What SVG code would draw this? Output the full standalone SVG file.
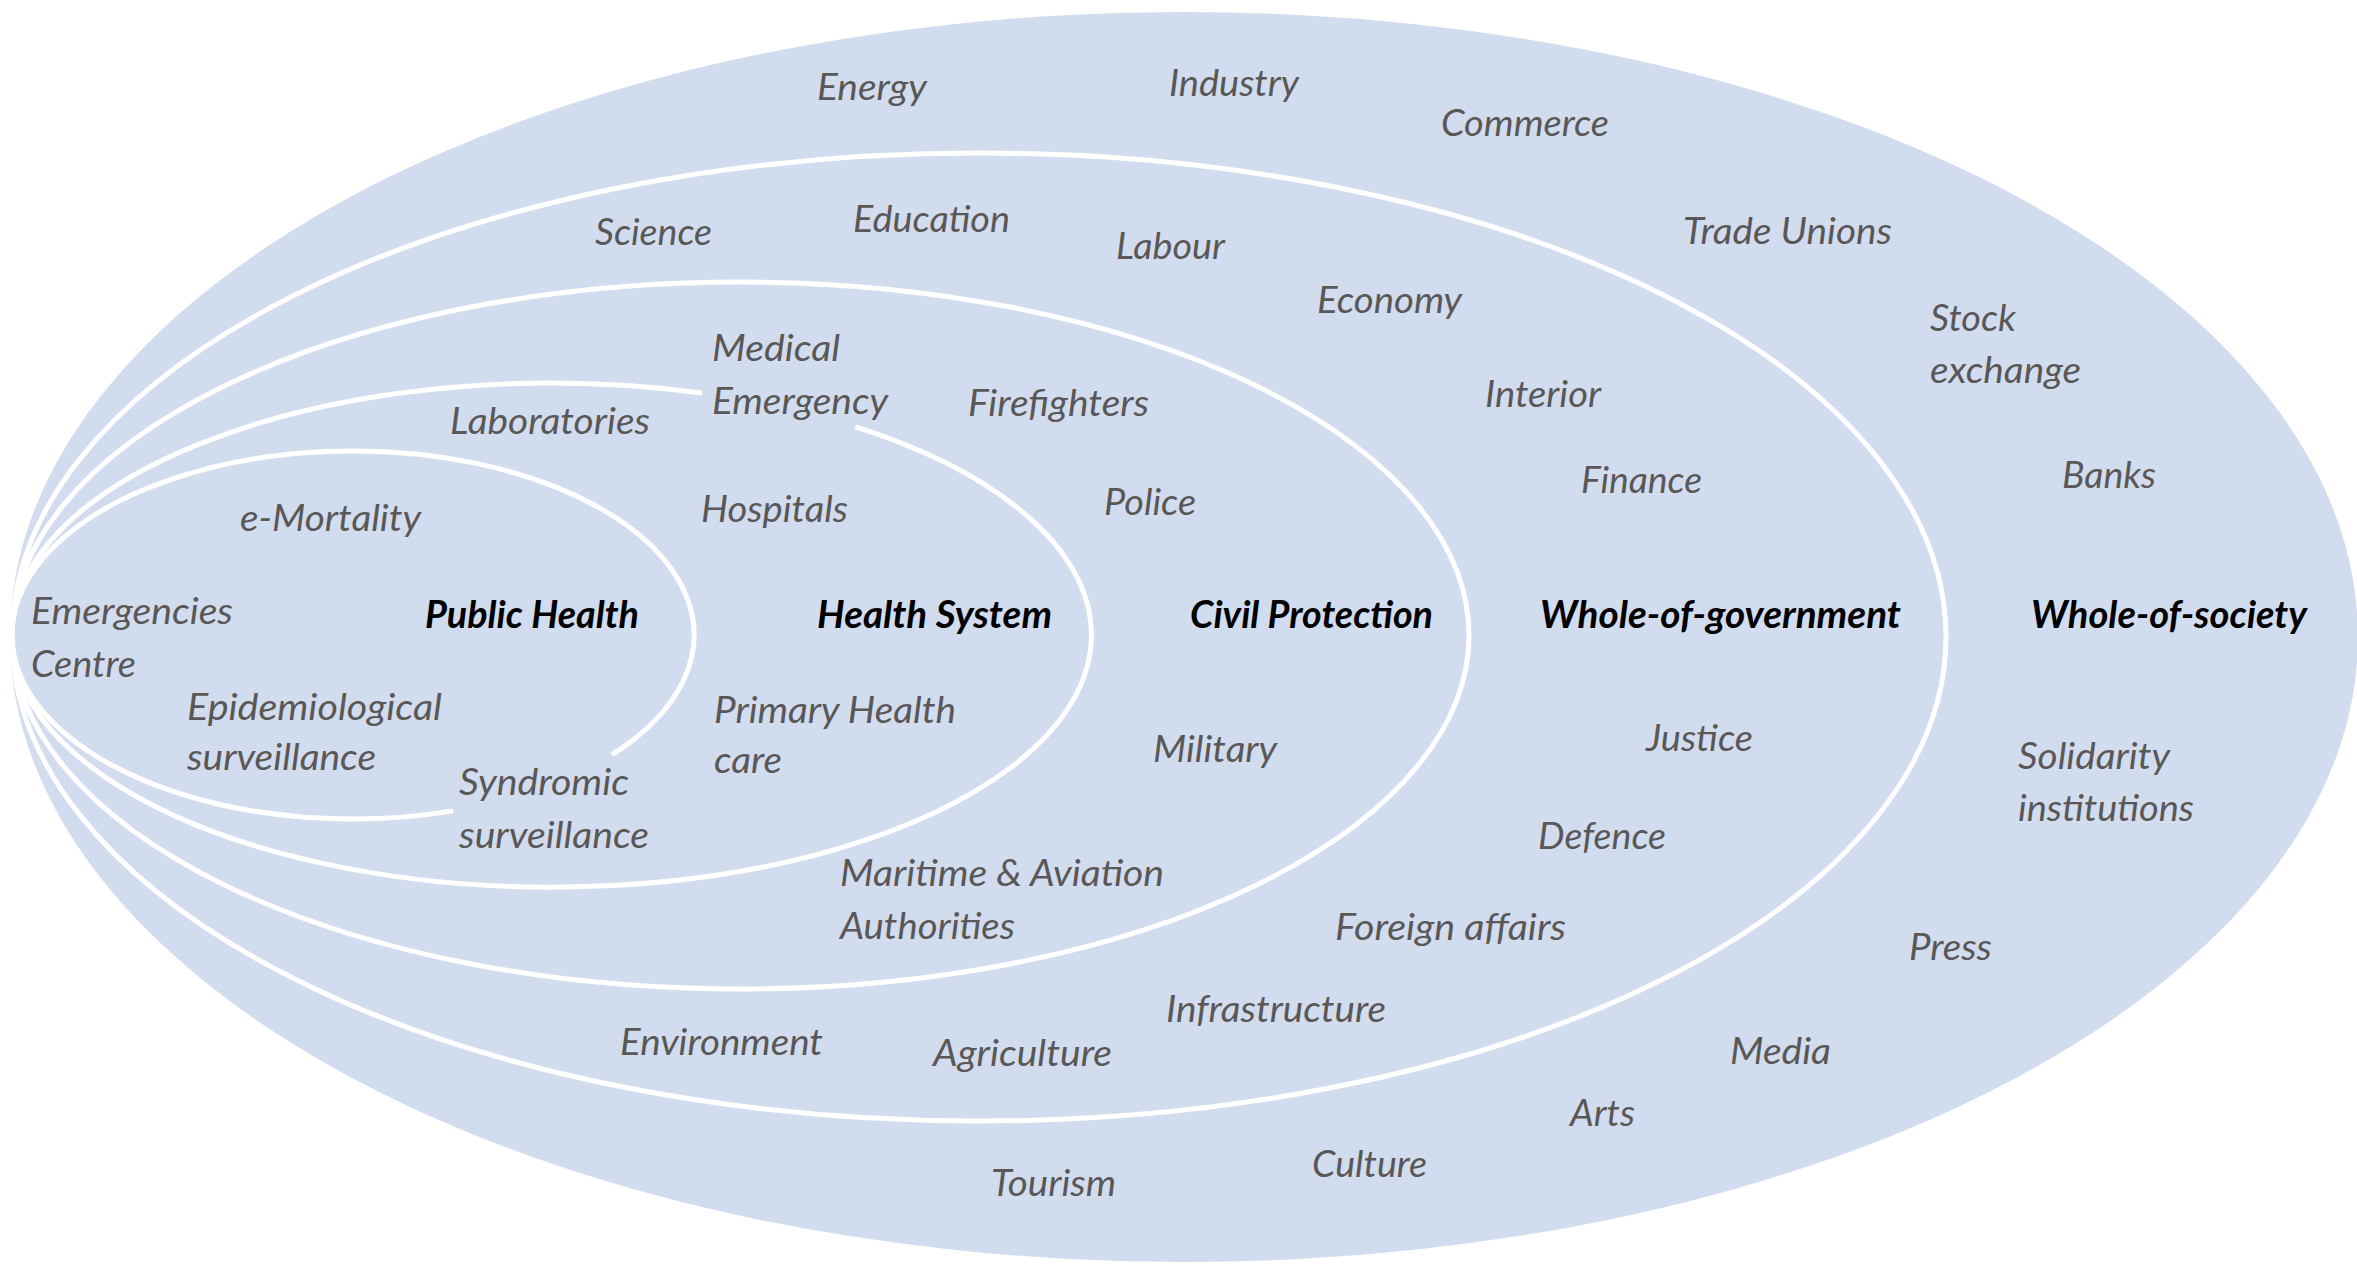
<svg xmlns="http://www.w3.org/2000/svg" width="2357" height="1269" viewBox="0 0 2357 1269">
<style>
.ring{fill:none;stroke:#ffffff;stroke-width:5}
.t{font-family:Lato,"Open Sans","Liberation Sans",sans-serif;font-style:italic;font-size:36px;fill:#5A5757}
.h{font-family:Lato,"Open Sans","Liberation Sans",sans-serif;font-style:italic;font-weight:bold;font-size:38px;fill:#000000}
</style>
<rect width="2357" height="1269" fill="#ffffff"/>
<g id="whole-of-society">
<ellipse cx="1184" cy="637" rx="1174" ry="625" fill="#D2DCEF"/>
<text class="h" x="2031" y="628" textLength="276" lengthAdjust="spacingAndGlyphs">Whole-of-society</text>
<text class="t" x="817" y="100" textLength="110" lengthAdjust="spacingAndGlyphs">Energy</text>
<text class="t" x="1169" y="96" textLength="130" lengthAdjust="spacingAndGlyphs">Industry</text>
<text class="t" x="1441" y="136" textLength="168" lengthAdjust="spacingAndGlyphs">Commerce</text>
<text class="t" x="1683" y="244" textLength="209" lengthAdjust="spacingAndGlyphs">Trade Unions</text>
<text class="t" x="1930" y="331" textLength="86" lengthAdjust="spacingAndGlyphs">Stock</text>
<text class="t" x="1930" y="383" textLength="151" lengthAdjust="spacingAndGlyphs">exchange</text>
<text class="t" x="2062" y="488" textLength="94" lengthAdjust="spacingAndGlyphs">Banks</text>
<text class="t" x="2018" y="769" textLength="152" lengthAdjust="spacingAndGlyphs">Solidarity</text>
<text class="t" x="2018" y="821" textLength="176" lengthAdjust="spacingAndGlyphs">institutions</text>
<text class="t" x="1909" y="960" textLength="83" lengthAdjust="spacingAndGlyphs">Press</text>
<text class="t" x="1730" y="1064" textLength="101" lengthAdjust="spacingAndGlyphs">Media</text>
<text class="t" x="1570" y="1126" textLength="65" lengthAdjust="spacingAndGlyphs">Arts</text>
<text class="t" x="1312" y="1177" textLength="115" lengthAdjust="spacingAndGlyphs">Culture</text>
<text class="t" x="991" y="1196" textLength="125" lengthAdjust="spacingAndGlyphs">Tourism</text>
</g>
<g id="whole-of-government">
<ellipse class="ring" cx="979" cy="637" rx="967" ry="484"/>
<text class="h" x="1540" y="628" textLength="361" lengthAdjust="spacingAndGlyphs">Whole-of-government</text>
<text class="t" x="595" y="245" textLength="117" lengthAdjust="spacingAndGlyphs">Science</text>
<text class="t" x="853" y="232" textLength="157" lengthAdjust="spacingAndGlyphs">Education</text>
<text class="t" x="1116" y="259" textLength="109" lengthAdjust="spacingAndGlyphs">Labour</text>
<text class="t" x="1317" y="313" textLength="145" lengthAdjust="spacingAndGlyphs">Economy</text>
<text class="t" x="1485" y="407" textLength="116" lengthAdjust="spacingAndGlyphs">Interior</text>
<text class="t" x="1581" y="493" textLength="121" lengthAdjust="spacingAndGlyphs">Finance</text>
<text class="t" x="1646" y="751" textLength="107" lengthAdjust="spacingAndGlyphs">Justice</text>
<text class="t" x="1538" y="849" textLength="128" lengthAdjust="spacingAndGlyphs">Defence</text>
<text class="t" x="1335" y="940" textLength="231" lengthAdjust="spacingAndGlyphs">Foreign affairs</text>
<text class="t" x="1166" y="1022" textLength="220" lengthAdjust="spacingAndGlyphs">Infrastructure</text>
<text class="t" x="933" y="1066" textLength="179" lengthAdjust="spacingAndGlyphs">Agriculture</text>
<text class="t" x="620" y="1055" textLength="203" lengthAdjust="spacingAndGlyphs">Environment</text>
</g>
<g id="civil-protection">
<ellipse class="ring" cx="740.5" cy="635.5" rx="728.5" ry="353.5"/>
<text class="h" x="1190" y="628" textLength="243" lengthAdjust="spacingAndGlyphs">Civil Protection</text>
<text class="t" x="712" y="361" textLength="128" lengthAdjust="spacingAndGlyphs">Medical</text>
<text class="t" x="712" y="414" textLength="176" lengthAdjust="spacingAndGlyphs">Emergency</text>
<text class="t" x="968" y="416" textLength="181" lengthAdjust="spacingAndGlyphs">Firefighters</text>
<text class="t" x="1104" y="515" textLength="92" lengthAdjust="spacingAndGlyphs">Police</text>
<text class="t" x="1153" y="762" textLength="124" lengthAdjust="spacingAndGlyphs">Military</text>
<text class="t" x="840" y="886" textLength="324" lengthAdjust="spacingAndGlyphs">Maritime &amp; Aviation</text>
<text class="t" x="840" y="939" textLength="175" lengthAdjust="spacingAndGlyphs">Authorities</text>
</g>
<g id="health-system">
<path class="ring" d="M 855 426.7 A 540 252 0 1 1 702 393.1"/>
<text class="h" x="817" y="628" textLength="235" lengthAdjust="spacingAndGlyphs">Health System</text>
<text class="t" x="450" y="434" textLength="200" lengthAdjust="spacingAndGlyphs">Laboratories</text>
<text class="t" x="701" y="522" textLength="147" lengthAdjust="spacingAndGlyphs">Hospitals</text>
<text class="t" x="714" y="723" textLength="242" lengthAdjust="spacingAndGlyphs">Primary Health</text>
<text class="t" x="714" y="773" textLength="68" lengthAdjust="spacingAndGlyphs">care</text>
<text class="t" x="459" y="795" textLength="170" lengthAdjust="spacingAndGlyphs">Syndromic</text>
<text class="t" x="459" y="848" textLength="190" lengthAdjust="spacingAndGlyphs">surveillance</text>
</g>
<g id="public-health">
<path class="ring" d="M 612 754.7 A 341 184 0 1 0 453 810.9"/>
<text class="h" x="425" y="628" textLength="214" lengthAdjust="spacingAndGlyphs">Public Health</text>
<text class="t" x="240" y="531" textLength="181" lengthAdjust="spacingAndGlyphs">e-Mortality</text>
<text class="t" x="31" y="624" textLength="202" lengthAdjust="spacingAndGlyphs">Emergencies</text>
<text class="t" x="31" y="677" textLength="105" lengthAdjust="spacingAndGlyphs">Centre</text>
<text class="t" x="187" y="720" textLength="255" lengthAdjust="spacingAndGlyphs">Epidemiological</text>
<text class="t" x="187" y="770" textLength="189" lengthAdjust="spacingAndGlyphs">surveillance</text>
</g>
</svg>
